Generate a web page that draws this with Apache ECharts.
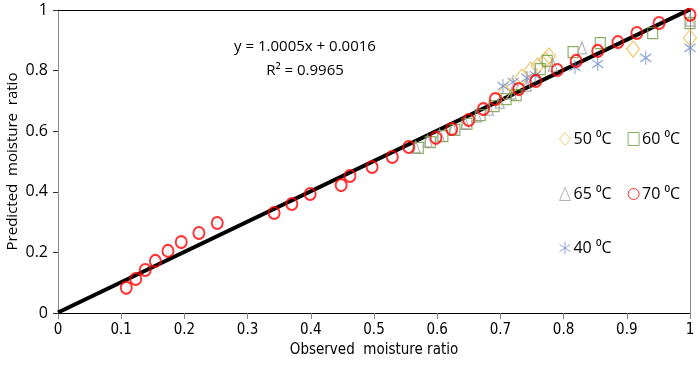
<!DOCTYPE html>
<html>
<head>
<meta charset="utf-8">
<script src="https://cdn.jsdelivr.net/npm/echarts@6/dist/echarts.min.js"></script>
<style>html,body{margin:0;padding:0;background:#fff}#c{width:700px;height:365px}</style>
</head>
<body>
<div id="c"></div>
<script>
// ---- data (observed, predicted) ----
const seriesNames = ['50 \u2070C', '60 \u2070C', '65 \u2070C', '70 \u2070C', '40 \u2070C'];
const xTicks = [0, 0.1, 0.2, 0.3, 0.4, 0.5, 0.6, 0.7, 0.8, 0.9, 1];
const yTicks = [0, 0.2, 0.4, 0.6, 0.8, 1];
const trendLine = [[0, 0.0016], [1, 1.0021]];
const equationText = 'y = 1.0005x + 0.0016';
const r2Text = 'R\u00B2 = 0.9965';

const t50 = [[0.707,0.729],[0.718,0.749],[0.734,0.779],[0.748,0.802],[0.759,0.815],[0.771,0.835],[0.777,0.848],[0.910,0.871],[1.0,0.908]];
const t60 = [[0.570,0.545],[0.589,0.564],[0.609,0.584],[0.628,0.604],[0.647,0.624],[0.668,0.653],[0.690,0.683],[0.709,0.706],[0.725,0.719],[0.763,0.805],[0.774,0.832],[0.815,0.861],[0.858,0.891],[0.941,0.924],[1.0,0.957]];
const t65 = [[0.566,0.548],[0.585,0.568],[0.604,0.587],[0.625,0.607],[0.644,0.627],[0.663,0.650],[0.682,0.673],[0.699,0.696],[0.718,0.726],[0.742,0.752],[0.783,0.818],[0.829,0.875],[1.0,0.967]];
const t70 = [[0.108,0.083],[0.123,0.112],[0.138,0.142],[0.154,0.172],[0.174,0.205],[0.195,0.234],[0.223,0.264],[0.252,0.297],[0.342,0.330],[0.370,0.360],[0.399,0.393],[0.448,0.422],[0.462,0.452],[0.497,0.482],[0.529,0.515],[0.555,0.548],[0.598,0.578],[0.623,0.607],[0.650,0.637],[0.673,0.673],[0.692,0.706],[0.729,0.739],[0.756,0.766],[0.790,0.802],[0.820,0.832],[0.854,0.865],[0.886,0.894],[0.916,0.924],[0.951,0.957],[1.0,0.984]];
const t40 = [[0.704,0.749],[0.720,0.762],[0.742,0.776],[0.755,0.785],[0.818,0.812],[0.854,0.822],[0.930,0.842],[1.0,0.875]];

const FONT = '"DejaVu Sans Condensed", "Noto Sans", sans-serif';
const FONT2 = '"Open Sans", "Noto Sans", sans-serif';
const star = 'path://M5,0L5,10M0.8,2.2L9.2,7.8M0.8,7.8L9.2,2.2';

const chart = echarts.init(document.getElementById('c'), null, {renderer: 'canvas'});
function hollow(name, data, symbol, size, color, bw, z) {
  return {
    name, type: 'scatter', data, symbol, symbolSize: size, z: z || 3,
    itemStyle: {color: 'rgba(0,0,0,0)', borderColor: color, borderWidth: bw},
    emphasis: {disabled: true}
  };
}
const legendCommon = {
  itemWidth: 11, itemHeight: 13, itemGap: 16,
  itemStyle: {borderWidth: 1},
  textStyle: {fontFamily: FONT2, fontSize: 16, color: '#000', padding: [0,0,0,-2]},
  selectedMode: false
};
chart.setOption({
  animation: false,
  grid: {left: 58, right: 10, top: 10, bottom: 52, containLabel: false, outerBoundsMode: 'none'},
  xAxis: [{
    type: 'value', min: 0, max: 1, interval: 0.1,
    name: 'Observed  moisture ratio', nameLocation: 'middle', nameGap: 30, nameMoveOverlap: false,
    nameTextStyle: {fontFamily: FONT, fontSize: 15, color: '#000'},
    axisLine: {show: true, lineStyle: {color: '#000', width: 1}},
    axisTick: {show: true, length: 6, lineStyle: {color: '#888'}},
    axisLabel: {fontFamily: FONT, fontSize: 15, color: '#000', margin: 10,
      formatter: v => { const t = xTicks.find(a => Math.abs(a - v) < 1e-6); return t === undefined ? '' : String(t); }},
    splitLine: {show: false}
  }, {
    type: 'value', min: 0, max: 1, position: 'top',
    axisLine: {show: true, onZero: false, lineStyle: {color: '#000', width: 1}},
    axisTick: {show: false}, axisLabel: {show: false}, splitLine: {show: false}
  }],
  yAxis: [{
    type: 'value', min: 0, max: 1, interval: 0.2,
    name: 'Predicted  moisture  ratio', nameLocation: 'middle', nameGap: 38, nameMoveOverlap: false,
    nameTextStyle: {fontFamily: FONT2, fontSize: 15, color: '#000'},
    axisLine: {show: true, lineStyle: {color: '#888', width: 1}},
    axisTick: {show: true, length: 5, lineStyle: {color: '#333'}},
    axisLabel: {fontFamily: FONT2, fontSize: 16, color: '#000', margin: 10,
      formatter: v => { const t = yTicks.find(a => Math.abs(a - v) < 1e-6); return t === undefined ? '' : String(t); }},
    splitLine: {show: false}
  }, {
    type: 'value', min: 0, max: 1, position: 'right',
    axisLine: {show: true, onZero: false, lineStyle: {color: '#888', width: 1}},
    axisTick: {show: false}, axisLabel: {show: false}, splitLine: {show: false}
  }],
  legend: [
    Object.assign({}, legendCommon, {left: 554, top: 126, data: [seriesNames[0], seriesNames[1]]}),
    Object.assign({}, legendCommon, {left: 554, top: 181, data: [seriesNames[2], seriesNames[3]]}),
    Object.assign({}, legendCommon, {left: 554, top: 235, data: [seriesNames[4]]})
  ],
  graphic: [
    {type: 'text', style: {text: equationText, x: 305, y: 47, align: 'center', verticalAlign: 'middle', font: '15px ' + FONT2, fill: '#000'}},
    {type: 'text', style: {text: r2Text, x: 305, y: 71, align: 'center', verticalAlign: 'middle', font: '15px ' + FONT2, fill: '#000'}}
  ],
  series: [
    {name: 'trend', type: 'line', data: trendLine, symbol: 'none', z: 2, clip: true,
     lineStyle: {color: '#000', width: 4}, emphasis: {disabled: true}},
    hollow(seriesNames[0], t50, 'diamond', [13, 16], '#EDBA4F', 1.2, 3),
    hollow(seriesNames[1], t60, 'rect', [10, 11], '#6E9B3C', 1.2, 3),
    hollow(seriesNames[2], t65, 'triangle', [9, 12], '#A0A0A0', 1.2, 3),
    hollow(seriesNames[4], t40, star, [11, 14], '#6F8FD0', 1.2, 3),
    hollow(seriesNames[3], t70, 'circle', [11, 12], '#FF0000', 2, 4)
  ]
});
</script>
</body>
</html>
